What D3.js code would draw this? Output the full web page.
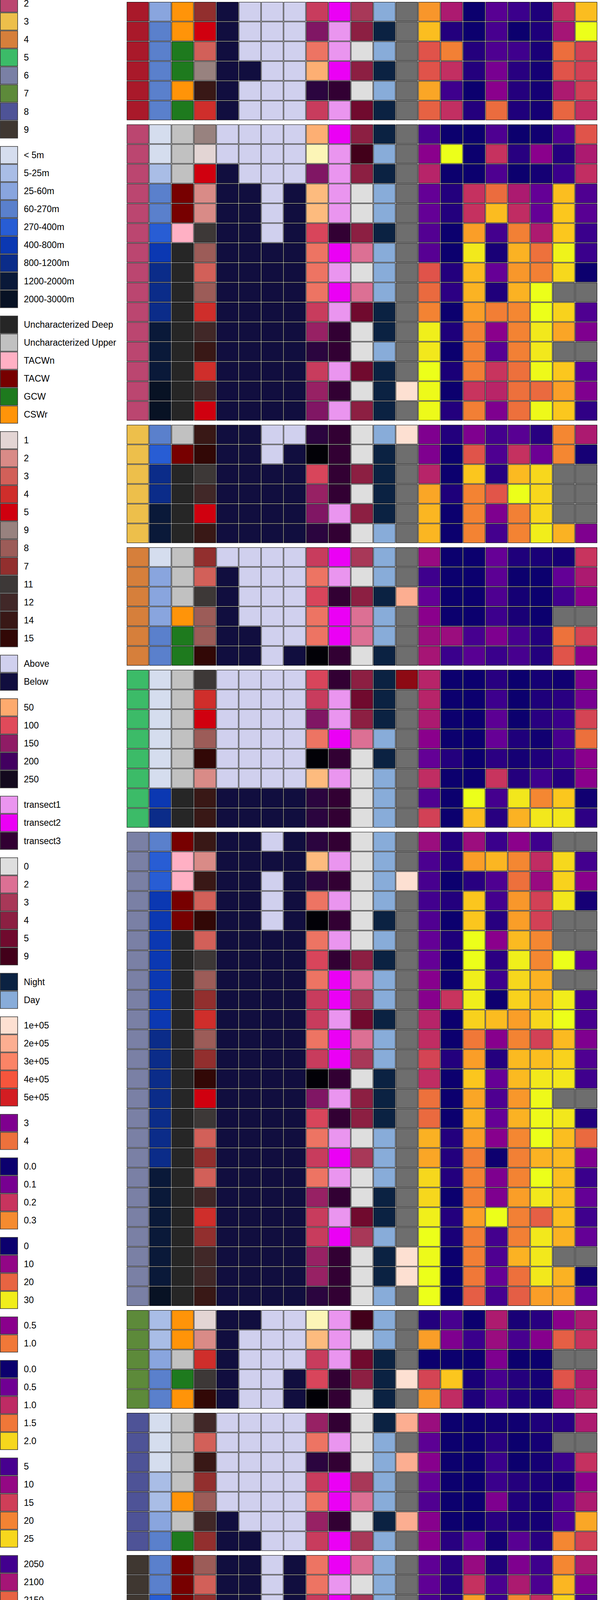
<!DOCTYPE html>
<html>
<head>
<meta charset="utf-8">
<script src="https://cdn.jsdelivr.net/npm/d3@7"></script>
<style>
  body { margin: 0; background: #fff; }
  svg { display: block; font-family: "Liberation Sans", Arial, Helvetica, sans-serif; }
</style>
</head>
<body>
<svg id="chart" width="1536" height="4800"></svg>
<script>
// ---------- data (one entry per sample row, top to bottom) ----------
const columns = ["K-means", "Depth", "Water mass", "Station", "MLD", "DCM", "O2 min", "Sal max",
  "Distance", "Transect", "Oil Rigs", "Day Night", "Cells/ml", "Oxygen", "NO2", "NO3", "NH4",
  "PO4", "SIL", "DIC", "TA"];

// rows per k-means cluster, in drawing order
const clusterSizes = [6, 15, 6, 6, 8, 24, 5, 7, 13];

const depthLevels = ["< 5m", "5-25m", "25-60m", "60-270m", "270-400m", "400-800m", "800-1200m", "1200-2000m", "2000-3000m"];
const waterLevels = ["Uncharacterized Deep", "Uncharacterized Upper", "TACWn", "TACW", "GCW", "CSWr"];
const stationLevels = [1, 2, 3, 4, 5, 9, 8, 7, 11, 12, 14, 15];
const posLevels = ["Above", "Below"];
const transectLevels = ["transect1", "transect2", "transect3"];
const oilLevels = [0, 2, 3, 4, 5, 9];
const dayLevels = ["Night", "Day"];

// depth: index into depthLevels
const depth = [2,3,3,3,3,3,
  0,0,1,3,3,4,5,6,6,6,7,7,7,8,8,
  3,4,6,6,7,7,
  0,2,2,2,3,3,
  0,0,0,0,0,0,5,6,
  3,4,4,5,5,5,5,5,5,5,6,6,6,6,6,6,6,7,7,7,7,7,7,8,
  1,1,2,3,3,
  0,0,0,1,1,2,3,
  3,3,4,5,7,7,7,7,7,7,7,8,8];

// water mass: index into waterLevels
const waterMass = [5,5,4,4,5,4,
  1,1,1,3,3,2,0,0,0,0,0,0,0,0,0,
  1,3,0,0,0,0,
  1,1,1,5,4,4,
  1,1,1,1,1,1,0,0,
  3,2,2,3,3,0,0,0,0,0,0,0,0,0,0,0,0,0,0,0,0,0,0,0,
  5,5,1,4,5,
  1,1,1,1,5,1,4,
  3,3,3,0,0,0,0,0,0,0,0,0,0];

const station = [7,5,3,9,14,4,
  9,1,5,2,2,11,8,3,8,4,12,14,4,12,5,
  14,15,11,12,5,14,
  7,3,11,8,8,15,
  11,4,5,8,15,2,14,14,
  14,2,14,3,15,3,11,8,7,4,8,7,15,5,11,3,7,3,12,4,7,12,12,14,
  1,2,4,11,15,
  12,3,14,7,8,12,7,
  8,3,7,3,4,7,11,5,4,5,14,5,14];

// 0 = Above, 1 = Below
const mld = [1,1,1,1,1,1,
  0,0,1,1,1,1,1,1,1,1,1,1,1,1,1,
  1,1,1,1,1,1,
  0,1,1,1,1,1,
  0,0,0,0,0,0,1,1,
  1,1,1,1,1,1,1,1,1,1,1,1,1,1,1,1,1,1,1,1,1,1,1,1,
  1,1,1,1,1,
  0,0,0,0,0,1,1,
  1,1,1,1,1,1,1,1,1,1,1,1,1];
const dcm = [0,0,0,1,0,0,
  0,0,0,1,1,1,1,1,1,1,1,1,1,1,1,
  1,1,1,1,1,1,
  0,0,0,0,1,1,
  0,0,0,0,0,0,1,1,
  1,1,1,1,1,1,1,1,1,1,1,1,1,1,1,1,1,1,1,1,1,1,1,1,
  1,0,0,0,0,
  0,0,0,0,0,0,1,
  1,1,1,1,1,1,1,1,1,1,1,1,1];
const o2min = [0,0,0,0,0,0,
  0,0,0,0,0,0,1,1,1,1,1,1,1,1,1,
  0,0,1,1,1,1,
  0,0,0,0,0,0,
  0,0,0,0,0,0,1,1,
  0,1,0,0,0,1,1,1,1,1,1,1,1,1,1,1,1,1,1,1,1,1,1,1,
  0,0,0,0,0,
  0,0,0,0,0,0,0,
  0,0,0,1,1,1,1,1,1,1,1,1,1];
const salMax = [0,0,0,0,0,0,
  0,0,0,1,1,1,1,1,1,1,1,1,1,1,1,
  0,1,1,1,1,1,
  0,0,0,0,0,1,
  0,0,0,0,0,0,1,1,
  1,1,1,1,1,1,1,1,1,1,1,1,1,1,1,1,1,1,1,1,1,1,1,1,
  0,0,0,1,1,
  0,0,0,0,0,0,0,
  1,1,1,1,1,1,1,1,1,1,1,1,1];

const distance = [115,160,78,47,225,115,
  47,5,160,40,40,105,78,78,78,115,145,225,115,145,160,
  225,268,105,145,160,225,
  115,78,105,78,78,268,
  105,115,160,78,268,40,225,225,
  225,40,225,78,268,78,105,78,115,115,78,115,268,160,105,78,115,78,145,115,115,145,145,225,
  5,40,115,105,268,
  145,78,225,115,78,145,115,
  78,78,115,78,115,115,105,160,115,160,225,160,225];

// transect number 1-3
const transect = [2,1,1,2,3,1,
  2,1,1,1,1,3,2,1,2,1,3,3,1,3,1,
  3,3,3,3,1,3,
  2,1,3,2,2,3,
  3,1,1,2,3,1,3,3,
  3,1,3,1,3,1,3,2,2,1,2,2,3,1,3,1,2,1,3,1,2,3,3,3,
  1,1,1,3,3,
  3,1,3,2,2,3,2,
  2,1,2,1,1,2,3,1,1,1,3,1,3];

const oilRigs = [3,4,0,4,0,5,
  4,9,4,0,0,4,2,0,2,5,0,0,5,0,4,
  0,0,4,0,4,0,
  3,0,4,2,2,0,
  4,5,4,2,0,0,0,0,
  0,0,0,0,0,0,4,2,3,5,2,3,0,4,4,0,3,0,0,5,3,0,0,0,
  9,0,5,4,0,
  0,0,0,3,2,0,3,
  2,0,3,0,5,3,4,4,5,4,0,4,0];

const dayNight = ["D","N","D","N","D","N",
  "N","D","N","D","D","N","D","D","D","N","N","D","N","N","N",
  "D","N","N","N","N","D",
  "D","D","N","D","D","N",
  "N","N","N","D","N","D","D","D",
  "D","D","D","D","N","D","N","D","D","N","D","D","N","N","N","D","D","D","N","N","D","N","N","D",
  "D","D","N","N","N",
  "N","D","D","D","D","N","D",
  "D","D","D","D","N","D","N","N","N","N","D","N","D"];

const cells = [null,null,null,null,null,null,
  null,null,null,null,null,null,null,null,null,null,null,null,null,1e5,null,
  1e5,null,null,null,null,null,
  null,null,2e5,null,null,null,
  6.3e5,null,null,null,null,null,null,null,
  null,null,1e5,null,null,null,null,null,null,null,null,null,null,null,null,null,null,null,null,null,null,1e5,1e5,null,
  null,null,null,1e5,null,
  2e5,null,2e5,null,null,2e5,null,
  null,null,null,null,null,null,2e5,null,null,null,null,null,1e5];

const oxygen = [4.24,4.49,3.80,3.80,4.34,3.90,
  2.68,3.07,3.41,2.83,2.83,2.73,2.75,3.80,3.95,4.12,4.71,4.68,4.78,4.76,4.76,
  3.00,3.00,3.41,4.34,4.44,4.44,
  3.17,2.61,2.83,3.07,3.19,3.27,
  3.41,3.41,3.32,3.07,2.83,3.49,2.71,3.66,
  3.19,2.68,2.66,2.63,2.71,2.83,2.83,3.05,3.05,3.41,3.49,3.68,3.49,4.00,3.95,4.41,4.34,4.61,4.61,4.71,4.78,4.76,4.78,4.78,
  2.46,4.29,2.34,3.68,4.24,
  3.19,2.78,3.05,2.83,2.71,3.05,3.05,
  2.80,2.80,2.66,3.32,4.54,4.68,4.78,4.68,4.78,4.71,4.71,4.78,4.76];

const no2 = [0.160,0.020,0.288,0.192,0.044,0.192,
  0,0.400,0,0.020,0.020,0,0,0.020,0.028,0,0.016,0,0.012,0,0.020,
  0.020,0,0,0.016,0,0,
  0,0,0,0,0.140,0.040,
  0,0,0,0,0.020,0,0,0,
  0.020,0.020,0,0.020,0,0.016,0,0,0.200,0,0,0.020,0,0,0,0.020,0.020,0.020,0,0.020,0.012,0,0,0,
  0.052,0.108,0,0.360,0.188,
  0,0,0,0,0,0,0.024,
  0.024,0.024,0.024,0.024,0,0.020,0.032,0.004,0.020,0,0,0.020,0];

const no3 = [0,0,1.6,1.6,0,1.6,
  0,0,0,15.2,15.2,24.8,29.8,27.0,26.4,24.8,22.6,22.6,22.3,15.5,22.3,
  8.4,18.6,27.9,22.6,22.6,22.6,
  0,0,0,0,4.0,5.3,
  0,0,0,0,0,0,31.0,27.3,
  10.9,24.8,1.9,27.9,27.9,31.0,31.0,30.1,30.1,28.5,21.7,24.8,27.9,25.4,26.4,24.8,22.3,22.6,22.6,24.8,22.3,22.3,21.7,19.5,
  0,3.1,0,0.9,1.2,
  0,0,0,0,0,0,6.2,
  10.5,15.2,24.8,29.8,21.1,21.1,22.3,22.3,15.5,24.8,22.3,21.1,21.1];

const nh4 = [0.34,0.29,0.31,0.44,0.50,0.96,
  0.31,0.74,0.31,0.96,1.22,0.28,0.16,0.38,0.18,1.02,0.50,0.34,0.75,0.68,0.46,
  0.28,0.31,0.20,0.88,0.46,0.28,
  0.38,0.35,0.31,0.26,0.46,0.25,
  0.20,0.26,0.35,0.38,0.21,0.75,0.28,0.20,
  0.25,1.20,0.31,0.28,0.20,0.50,0.21,0.26,0.13,1.22,0.49,0.19,0.38,0.31,0.38,0.49,0.13,0.46,0.46,1.38,0.28,0.31,0.38,0.29,
  0.63,0.56,0.46,0.29,0.31,
  0.14,0.20,0.25,0.25,0.46,0.20,0.15,
  0.18,0.30,0.25,0.28,0.81,0.49,0.18,0.34,1.22,0.49,0.28,0.50,0.20];

const po4 = [0.22,0,0.24,0.13,0.11,0.09,
  0,0.13,0,0.86,1.01,1.55,1.83,1.68,1.83,1.59,1.57,1.55,1.46,1.46,1.46,
  0.37,1.05,1.87,2.15,1.55,1.57,
  0.09,0,0.04,0.06,0.28,0.28,
  0,0,0,0.09,0.04,0.11,2.06,1.83,
  0.65,1.59,1.46,1.68,1.72,1.87,2.09,2.00,1.98,1.72,1.57,1.87,1.87,1.68,1.83,1.59,1.55,1.57,1.72,1.55,1.55,1.83,1.46,1.35,
  0.06,0.28,0,0.11,0.09,
  0.02,0,0,0.11,0.09,0.06,0.37,
  0.58,0.86,1.59,1.87,1.35,1.94,1.46,1.46,1.05,1.57,1.46,1.46,1.46];

const sil = [2.75,2.75,2.50,2.25,2.25,2.25,
  2.00,9.25,2.25,6.75,6.75,11.75,18.75,19.75,26.75,26.75,25.75,25.75,26.50,18.25,26.50,
  3.25,7.25,25.00,25.00,25.00,26.00,
  2.50,1.75,1.75,1.75,3.00,3.00,
  2.25,2.75,3.25,2.00,2.75,4.50,20.25,25.75,
  4.50,13.50,10.25,15.25,15.25,20.25,20.25,23.00,23.00,25.00,15.25,23.75,25.75,26.50,26.50,26.75,23.00,26.75,25.75,17.50,25.75,25.75,25.75,21.75,
  3.25,9.00,1.75,2.25,2.25,
  2.75,2.25,2.25,2.50,2.25,2.25,3.25,
  4.50,5.25,13.50,23.50,23.00,23.00,25.75,25.75,18.75,17.50,25.00,25.00,24.75];

const dic = [2119,2100,2156,2142,2104,2152,
  2056,2037,2046,2196,2200,2200,2215,2206,null,2204,2184,null,2200,2181,2200,
  2169,2169,null,null,null,2190,
  2031,2065,2050,null,2158,2142,
  2029,2039,2046,2052,2046,2037,2200,2211,
  null,2206,2204,2211,null,null,2219,null,2213,2219,2194,2204,2211,null,2211,2196,2194,2196,2196,2196,2190,null,2190,2181,
  2085,2148,null,2142,2094,
  2039,null,2046,2031,2056,2056,2169,
  2169,2192,2204,2219,2211,null,2192,2200,2190,2213,2192,2196,2192];

const ta = [0.002498,0.002520,0.002437,0.002437,0.002437,0.002426,
  0.002448,0.002412,0.002426,0.002367,0.002371,0.002358,0.002358,0.002340,null,0.002367,0.002389,null,0.002372,0.002389,0.002354,
  0.002412,0.002344,null,null,null,0.002389,
  0.002430,0.002412,0.002394,null,0.002439,0.002394,
  0.002389,0.002385,0.002439,0.002462,0.002394,0.002394,0.002342,0.002353,
  null,0.002362,0.002394,0.002344,null,null,0.002372,null,0.002363,0.002363,0.002389,0.002367,0.002360,null,0.002349,0.002459,0.002389,0.002358,0.002376,0.002360,0.002376,null,0.002342,0.002376,
  0.002412,0.002428,null,0.002412,0.002419,
  0.002412,null,0.002428,0.002394,0.002412,0.002488,0.002437,
  0.002412,0.002389,0.002367,0.002367,0.002360,null,0.002354,0.002439,0.002349,0.002371,0.002363,0.002376,0.002351];

// ---------- colours ----------
const NA = "#6e6e6e";
const kmeansColors = ["#a9192a","#bb4670","#edbf4b","#d67f3b","#3cbb68","#7a80a5","#5d8a3a","#4e5397","#3f3731"];
const depthColors = ["#d5ddee","#a9bde6","#89a5de","#5a80cc","#285dd4","#0b38b2","#0b2c89","#0a1939","#081224"];
const waterColors = ["#262626","#c1c1c1","#ffb0c4","#770000","#1e7a1e","#ff9409"];
const stationColors = ["#e3d5d4","#d98b87","#d26059","#cf2e2b","#d0000f","#98827f","#9c5c58","#922f2e","#3d3837","#412828","#391816","#320806"];
const posColors = ["#d0d0ee","#110e3f"];
const transectColors = ["#ea95ef","#eb00f5","#320033"];
const oilColors = ["#dedede","#dc7094","#a83858","#8c1f42","#700a2e","#42001a"];
const dayColors = ["#0b2242","#88acd9"];

const plasma = d3.piecewise(d3.interpolateRgb, ["#0c006e","#3a008c","#640096","#8a008c","#ac1a70",
  "#c8345e","#e0544a","#f07838","#fa9e28","#fbc61e","#ecff1a"]);
const seq = (lo, hi) => d3.scaleSequential(plasma).domain([lo, hi]).clamp(true);

const kmeansScale = d3.scaleOrdinal().domain(d3.range(1, 10)).range(kmeansColors);
const depthScale = d3.scaleOrdinal().domain(depthLevels).range(depthColors);
const waterScale = d3.scaleOrdinal().domain(waterLevels).range(waterColors);
const stationScale = d3.scaleOrdinal().domain(stationLevels).range(stationColors);
const posScale = d3.scaleOrdinal().domain(posLevels).range(posColors);
const transectScale = d3.scaleOrdinal().domain(transectLevels).range(transectColors);
const oilScale = d3.scaleOrdinal().domain(oilLevels).range(oilColors);
const dayScale = d3.scaleOrdinal().domain(dayLevels).range(dayColors);
const distanceScale = d3.scaleLinear().domain([0, 50, 100, 150, 200, 250, 270])
  .range(["#fcfdbf","#fdaa6e","#e04a5a","#8f1c65","#420060","#140a1e","#000004"]).clamp(true);
const cellsScale = d3.scaleLinear().domain([1e5, 2e5, 3e5, 4e5, 5e5, 7e5])
  .range(["#fde0d2","#fcae91","#fb8466","#f6553c","#d31d22","#67000d"]).clamp(true);
const oxygenScale = seq(2.34, 4.78);
const no2Scale = seq(0, 0.4);
const no3Scale = seq(0, 31);
const nh4Scale = seq(0.125, 1.375);
const po4Scale = seq(0, 2.15);
const silScale = seq(1.75, 26.75);
const dicScale = seq(2027, 2219);
const taScale = seq(0.00234, 0.00252);

const num = (scale, arr) => r => arr[r] == null ? NA : scale(arr[r]);

const rowGroup = clusterSizes.flatMap((n, g) => Array(n).fill(g));
const kmeans = rowGroup.map(g => g + 1);

const fills = {
  "K-means": r => kmeansScale(kmeans[r]),
  "Depth": r => depthScale(depthLevels[depth[r]]),
  "Water mass": r => waterScale(waterLevels[waterMass[r]]),
  "Station": r => stationScale(station[r]),
  "MLD": r => posScale(posLevels[mld[r]]),
  "DCM": r => posScale(posLevels[dcm[r]]),
  "O2 min": r => posScale(posLevels[o2min[r]]),
  "Sal max": r => posScale(posLevels[salMax[r]]),
  "Distance": num(distanceScale, distance),
  "Transect": r => transectScale(transectLevels[transect[r] - 1]),
  "Oil Rigs": r => oilScale(oilRigs[r]),
  "Day Night": r => dayScale(dayNight[r] === "D" ? "Day" : "Night"),
  "Cells/ml": num(cellsScale, cells),
  "Oxygen": num(oxygenScale, oxygen),
  "NO2": num(no2Scale, no2),
  "NO3": num(no3Scale, no3),
  "NH4": num(nh4Scale, nh4),
  "PO4": num(po4Scale, po4),
  "SIL": num(silScale, sil),
  "DIC": num(dicScale, dic),
  "TA": num(taScale, ta)
};

// ---------- layout ----------
const svg = d3.select("#chart");
const rowCount = depth.length;
const gridTop = 4.5, rowH = 50.6, groupGap = 10;

const x = d3.scaleBand().domain(columns).range([324, 1529.4]);
const y = d3.scaleBand().domain(d3.range(rowCount)).range([gridTop, gridTop + rowCount * rowH]);
const rowY = r => y(r) + rowGroup[r] * groupGap;
const gridBottom = rowY(rowCount - 1) + y.bandwidth();

const heat = svg.append("g");
columns.forEach(col => {
  heat.append("g").selectAll("rect")
    .data(d3.range(rowCount))
    .join("rect")
    .attr("x", x(col) + 1)
    .attr("y", r => rowY(r) + 1)
    .attr("width", x.bandwidth() - 2)
    .attr("height", y.bandwidth() - 2)
    .attr("fill", fills[col])
    .attr("stroke", "#000")
    .attr("stroke-width", 1);
});

// column labels, rotated
svg.append("g").selectAll("text")
  .data(columns)
  .join("text")
  .attr("transform", d => `translate(${x(d) + x.bandwidth() / 2},${gridBottom + 7}) rotate(-90)`)
  .attr("text-anchor", "end")
  .attr("dominant-baseline", "central")
  .style("font-size", "29px")
  .text(d => d);

// ---------- legends (stacked, centred on the heatmap) ----------
const legends = [
  { labels: d3.range(1, 10).map(String), colors: d3.range(1, 10).map(kmeansScale) },
  { labels: depthLevels, colors: depthLevels.map(depthScale) },
  { labels: waterLevels, colors: waterLevels.map(waterScale) },
  { labels: stationLevels.map(String), colors: stationLevels.map(stationScale) },
  { labels: posLevels, colors: posLevels.map(posScale) },
  { labels: ["50","100","150","200","250"], colors: [50,100,150,200,250].map(distanceScale) },
  { labels: transectLevels, colors: transectLevels.map(transectScale) },
  { labels: oilLevels.map(String), colors: oilLevels.map(oilScale) },
  { labels: dayLevels, colors: dayLevels.map(dayScale) },
  { labels: ["1e+05","2e+05","3e+05","4e+05","5e+05"], colors: [1e5,2e5,3e5,4e5,5e5].map(cellsScale) },
  { labels: ["3","4"], colors: [3, 4].map(oxygenScale) },
  { labels: ["0.0","0.1","0.2","0.3"], colors: [0, 0.1, 0.2, 0.3].map(no2Scale) },
  { labels: ["0","10","20","30"], colors: [0, 10, 20, 30].map(no3Scale) },
  { labels: ["0.5","1.0"], colors: [0.5, 1.0].map(nh4Scale) },
  { labels: ["0.0","0.5","1.0","1.5","2.0"], colors: [0, 0.5, 1, 1.5, 2].map(po4Scale) },
  { labels: ["5","10","15","20","25"], colors: [5, 10, 15, 20, 25].map(silScale) },
  { labels: ["2050","2100","2150","2200"], colors: [2050, 2100, 2150, 2200].map(dicScale) },
  { labels: ["0.00235","0.00240","0.00245","0.00250"], colors: [0.00235, 0.0024, 0.00245, 0.0025].map(taScale) },
  { labels: posLevels, colors: posLevels.map(posScale) },
  { labels: posLevels, colors: posLevels.map(posScale) },
  { labels: posLevels, colors: posLevels.map(posScale) }
];

const itemH = 46.1, legendGap = 19.2;
const totalH = d3.sum(legends, l => l.labels.length) * itemH + (legends.length - 1) * legendGap;
let ly = (gridTop + gridBottom) / 2 - totalH / 2;

legends.forEach(lg => {
  const g = svg.append("g").attr("transform", `translate(0,${ly})`);
  g.selectAll("rect")
    .data(lg.labels)
    .join("rect")
    .attr("x", 0.75)
    .attr("y", (d, i) => i * itemH + 1)
    .attr("width", 44.5)
    .attr("height", itemH - 2)
    .attr("fill", (d, i) => lg.colors[i])
    .attr("stroke", "#3a3a3a")
    .attr("stroke-width", 1.5);
  g.selectAll("text")
    .data(lg.labels)
    .join("text")
    .attr("x", 61)
    .attr("y", (d, i) => i * itemH + itemH / 2)
    .attr("dominant-baseline", "central")
    .style("font-size", "23px")
    .text(d => d);
  ly += lg.labels.length * itemH + legendGap;
});
</script>
</body>
</html>
